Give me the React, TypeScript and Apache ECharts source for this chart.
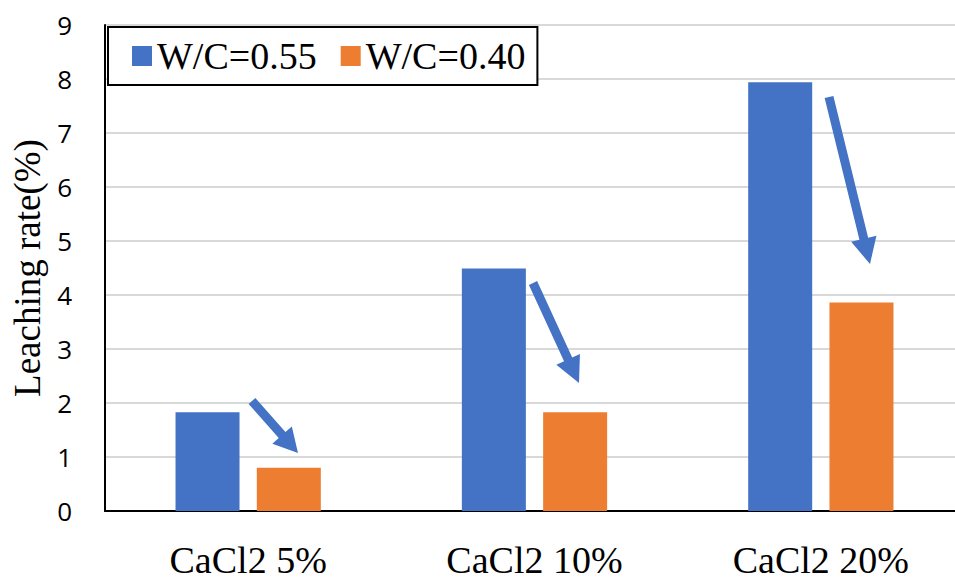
import React, { useEffect, useRef } from "react";
import * as echarts from "echarts";

const categories = ["CaCl2 5%", "CaCl2 10%", "CaCl2 20%"];
const seriesNames = ["W/C=0.55", "W/C=0.40"];
const wc055 = [1.83, 4.49, 7.94];
const wc040 = [0.8, 1.83, 3.86];
const yTicks = [0, 1, 2, 3, 4, 5, 6, 7, 8, 9];

const BLUE = "#4472C4";
const ORANGE = "#ED7D31";

function arrow(x1: number, y1: number, x2: number, y2: number, sw: number, hl: number, hw: number) {
  const dx = x2 - x1;
  const dy = y2 - y1;
  const len = Math.sqrt(dx * dx + dy * dy);
  const ux = dx / len;
  const uy = dy / len;
  const nx = -uy;
  const ny = ux;
  const bx = x2 - ux * hl;
  const by = y2 - uy * hl;
  const pts = [
    [x1 + (nx * sw) / 2, y1 + (ny * sw) / 2],
    [bx + (nx * sw) / 2, by + (ny * sw) / 2],
    [bx + (nx * hw) / 2, by + (ny * hw) / 2],
    [x2, y2],
    [bx - (nx * hw) / 2, by - (ny * hw) / 2],
    [bx - (nx * sw) / 2, by - (ny * sw) / 2],
    [x1 - (nx * sw) / 2, y1 - (ny * sw) / 2],
  ];
  return {
    type: "polygon",
    shape: { points: pts },
    style: { fill: BLUE },
    z: 100,
  };
}

export default function App() {
  const ref = useRef<HTMLDivElement>(null);
  useEffect(() => {
    if (!ref.current) return;
    const chart = echarts.init(ref.current, null, { renderer: "svg" });
    chart.setOption({
      animation: false,
      backgroundColor: "#ffffff",
      grid: {
        left: 105,
        top: 25,
        width: 859,
        height: 486,
        containLabel: false,
        outerBoundsMode: "none",
      },
      legend: {
        left: 108,
        top: 27,
        itemWidth: 20,
        itemHeight: 20,
        itemGap: 24,
        icon: "rect",
        borderColor: "#000",
        borderWidth: 2,
        padding: [10, 12, 10, 24],
        backgroundColor: "#fff",
        textStyle: { fontFamily: "Liberation Serif", fontSize: 38, color: "#000" },
        data: seriesNames,
      },
      xAxis: {
        type: "category",
        data: categories,
        axisLine: { show: true, lineStyle: { color: "#000", width: 2 } },
        axisTick: { show: false },
        axisLabel: { fontFamily: "Liberation Serif", fontSize: 38, color: "#000", margin: 30 },
      },
      yAxis: {
        type: "value",
        min: yTicks[0],
        max: yTicks[yTicks.length - 1],
        interval: 1,
        name: "Leaching rate(%)",
        nameLocation: "middle",
        nameGap: 57,
        nameTextStyle: { fontFamily: "Liberation Serif", fontSize: 37, color: "#000" },
        axisLine: { show: true, lineStyle: { color: "#000", width: 2 } },
        axisTick: { show: false },
        axisLabel: { fontFamily: "Open Sans", fontSize: 26, color: "#000", margin: 33 },
        splitLine: { show: true, lineStyle: { color: "#d9d9d9", width: 2 } },
      },
      series: [
        {
          name: seriesNames[0],
          type: "bar",
          data: wc055,
          barWidth: 64,
          barGap: "27%",
          itemStyle: { color: BLUE },
        },
        {
          name: seriesNames[1],
          type: "bar",
          data: wc040,
          barWidth: 64,
          itemStyle: { color: ORANGE },
        },
      ],
      graphic: [
        arrow(252, 401, 298, 453, 9, 24, 26),
        arrow(533, 283, 579, 383, 9, 26, 26),
        arrow(829, 97, 870, 264, 9, 26, 26),
      ],
    });
    return () => chart.dispose();
  }, []);
  return (
    <div
      ref={ref}
      style={{ position: "absolute", left: 0, top: 0, width: 955, height: 582 }}
    />
  );
}
